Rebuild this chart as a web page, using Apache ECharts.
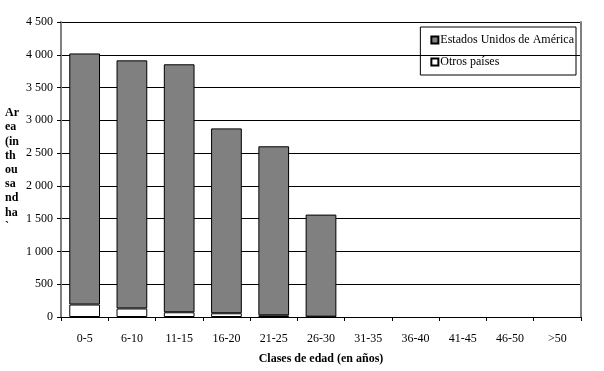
<!DOCTYPE html>
<html><head><meta charset="utf-8">
<script src="https://cdn.jsdelivr.net/npm/echarts@6/dist/echarts.min.js"></script>
<style>html,body{margin:0;padding:0;background:#fff}#c{width:604px;height:371px}</style>
</head><body><div id="c"></div>
<script>
const categories = ['0-5','6-10','11-15','16-20','21-25','26-30','31-35','36-40','41-45','46-50','>50'];
const usaValues = [3830, 3785, 3783, 2820, 2578, 1557, null, null, null, null, null];
const otherValues = [190, 130, 72, 57, 26, 5, null, null, null, null, null];
const yTicks = [0, 500, 1000, 1500, 2000, 2500, 3000, 3500, 4000, 4500];
const yTitleLines = ['Ar','ea','(in','th','ou','sa','nd','ha','`'];

const font = 'Liberation Serif';
const chart = echarts.init(document.getElementById('c'));
chart.setOption({
  backgroundColor: '#fff',
  animation: false,
  grid: {left: 61, right: 23, top: 22, bottom: 54, containLabel: false},
  legend: {
    orient: 'vertical', right: 28, top: 27,
    data: [{name: 'Estados Unidos de América', icon: 'rect'}, {name: 'Otros países', icon: 'rect'}],
    borderColor: '#000', borderWidth: 1, borderRadius: 0,
    padding: [7, 2, 7, 10],
    itemWidth: 7, itemHeight: 7, itemGap: 10,
    textStyle: {fontFamily: font, fontSize: 12, color: '#000', padding: [0,0,0,-3]}
  },
  xAxis: {
    type: 'category', data: categories,
    name: 'Clases de edad (en años)', nameLocation: 'middle', nameGap: 36,
    nameTextStyle: {fontFamily: font, fontSize: 12, fontWeight: 'bold', color: '#000'},
    axisLine: {lineStyle: {color: '#000', width: 1}},
    axisTick: {show: true, length: 4, lineStyle: {color: '#000'}},
    axisLabel: {fontFamily: font, fontSize: 12, color: '#000', margin: 16, interval: 0}
  },
  yAxis: [{
    type: 'value', min: 0, max: 4500, interval: 500,
    axisLine: {show: true, lineStyle: {color: '#808080', width: 2}},
    axisTick: {show: true, length: 4, lineStyle: {color: '#000'}},
    axisLabel: {
      fontFamily: font, fontSize: 12, color: '#000', margin: 8,
      formatter: v => yTicks.includes(v) ? (v >= 1000 ? String(v).replace(/(\d)(\d{3})$/, '$1 $2') : String(v)) : ''
    },
    splitLine: {show: true, lineStyle: {color: '#000', width: 1}}
  }, {
    type: 'value', min: 0, max: 4500, interval: 500, position: 'right',
    axisLine: {show: true, lineStyle: {color: '#808080', width: 2}},
    axisTick: {show: false}, axisLabel: {show: false}, splitLine: {show: false}
  }],
  graphic: [{
    type: 'text', left: 5, top: 106,
    style: {text: yTitleLines.join('\n'), font: 'bold 12px "Liberation Serif"', fill: '#000', lineHeight: 14.2}
  }],
  series: [{
    name: 'Otros países', type: 'bar', stack: 'a', data: otherValues,
    barWidth: '65%',
    itemStyle: {color: '#fff', borderColor: '#000', borderWidth: 1}
  }, {
    name: 'Estados Unidos de América', type: 'bar', stack: 'a', data: usaValues,
    barWidth: '65%',
    itemStyle: {color: '#808080', borderColor: '#000', borderWidth: 1}
  }]
});
</script></body></html>
